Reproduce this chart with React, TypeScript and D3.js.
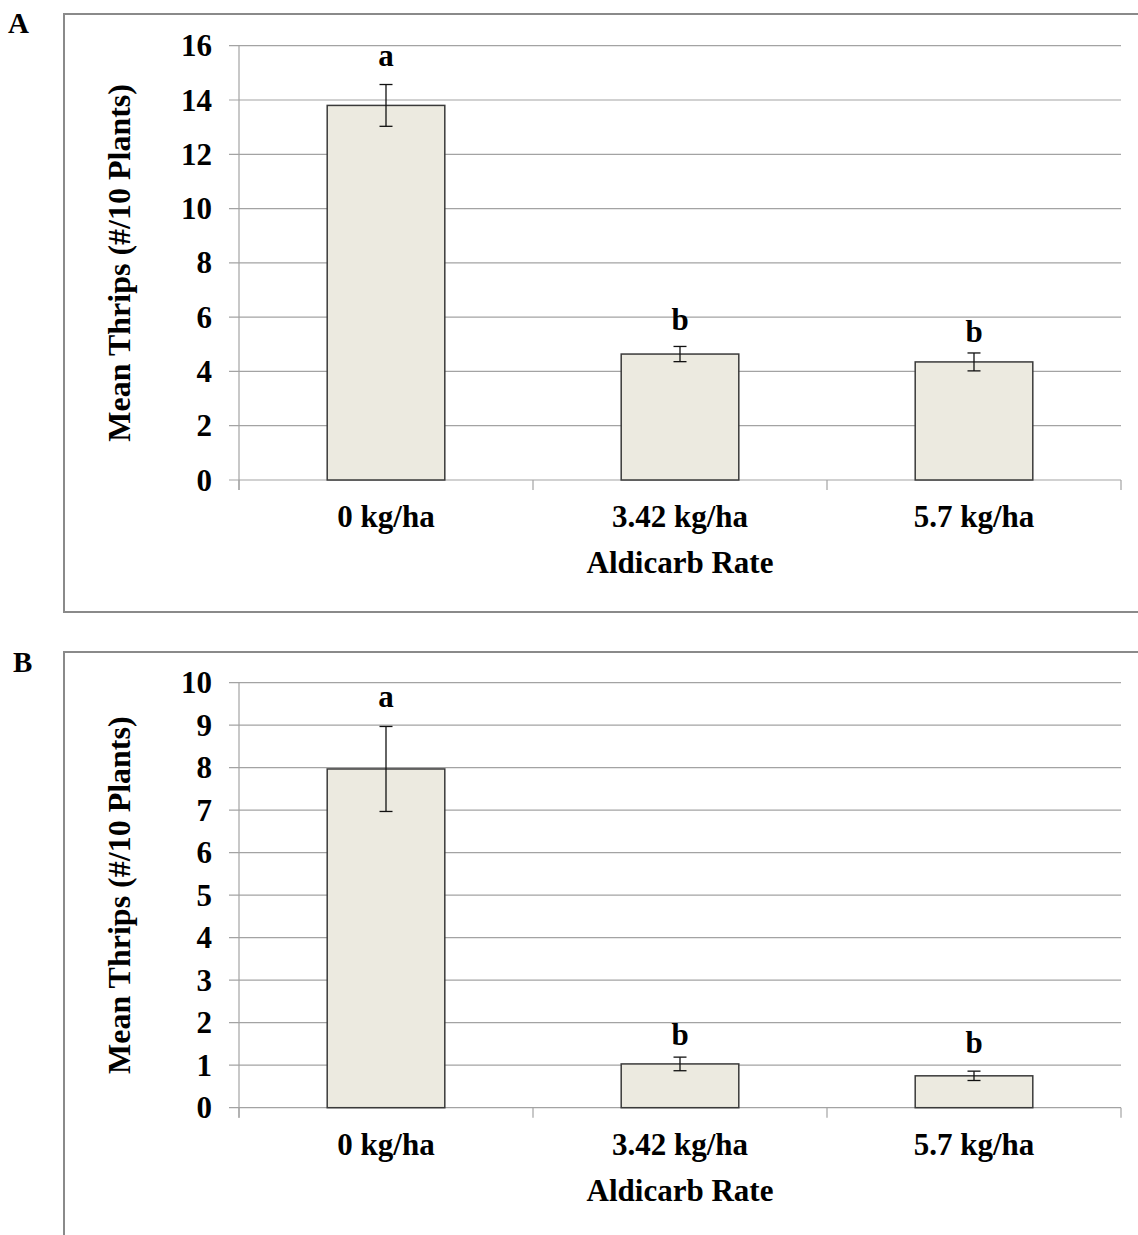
import React from "react";
import * as d3 from "d3";

const categories = ["0 kg/ha", "3.42 kg/ha", "5.7 kg/ha"];

const meansA = [13.8, 4.64, 4.35];
const errorsA = [0.77, 0.28, 0.33];
const lettersA = ["a", "b", "b"];
const letterPosA = [15.25, 5.51, 5.1];
const ticksA = [0, 2, 4, 6, 8, 10, 12, 14, 16];

const meansB = [7.97, 1.03, 0.75];
const errorsB = [1.0, 0.16, 0.11];
const lettersB = ["a", "b", "b"];
const letterPosB = [9.44, 1.48, 1.28];
const ticksB = [0, 1, 2, 3, 4, 5, 6, 7, 8, 9, 10];

const yTitle = "Mean Thrips (#/10 Plants)";
const xTitle = "Aldicarb Rate";

const FONT = "'Liberation Serif', 'Times New Roman', serif";
const GRID = "#a3a3a3";
const BAR_FILL = "#ECEAE0";
const BAR_STROKE = "#3a3a3a";

type PanelProps = {
  label: string;
  labelX: number;
  labelY: number;
  boxTop: number;
  boxBottom: number;
  yTop: number;
  yBottom: number;
  maxY: number;
  ticks: number[];
  means: number[];
  errors: number[];
  letters: string[];
  letterPos: number[];
  catBaseline: number;
  titleBaseline: number;
};

function Panel(p: PanelProps) {
  const x0 = 239;
  const x1 = 1121;
  const x = d3
    .scaleBand<string>()
    .domain(categories)
    .range([x0, x1])
    .paddingInner(0.6)
    .paddingOuter(0.3);
  const y = d3.scaleLinear().domain([0, p.maxY]).range([p.yBottom, p.yTop]);
  const step = (x1 - x0) / categories.length;
  const boundaries = d3.range(categories.length + 1).map((i) => x0 + i * step);
  const cap = 6.5;

  return (
    <g>
      <text
        x={p.labelX}
        y={p.labelY}
        fontFamily={FONT}
        fontWeight="bold"
        fontSize={29}
        fill="#000"
      >
        {p.label}
      </text>
      <rect
        x={64}
        y={p.boxTop}
        width={1138 - 64 + 10}
        height={p.boxBottom - p.boxTop}
        fill="none"
        stroke="#8a8a8a"
        strokeWidth={2}
      />
      {p.ticks.map((t) => (
        <line
          key={"g" + t}
          x1={x0 - 10}
          x2={x1}
          y1={y(t)}
          y2={y(t)}
          stroke={GRID}
          strokeWidth={1.2}
        />
      ))}
      <line x1={x0} x2={x0} y1={y(p.maxY)} y2={y(0) + 10} stroke={GRID} strokeWidth={1.2} />
      {boundaries.map((b, i) => (
        <line key={"xt" + i} x1={b} x2={b} y1={y(0)} y2={y(0) + 10} stroke={GRID} strokeWidth={1.2} />
      ))}
      {p.ticks.map((t) => (
        <text
          key={"tl" + t}
          x={212}
          y={y(t)}
          dy="0.34em"
          textAnchor="end"
          fontFamily={FONT}
          fontWeight="bold"
          fontSize={31}
          fill="#000"
        >
          {t}
        </text>
      ))}
      {categories.map((c, i) => (
        <rect
          key={"b" + i}
          x={x(c)}
          y={y(p.means[i])}
          width={x.bandwidth()}
          height={y(0) - y(p.means[i])}
          fill={BAR_FILL}
          stroke={BAR_STROKE}
          strokeWidth={1.5}
        />
      ))}
      {categories.map((c, i) => {
        const cx = (x(c) as number) + x.bandwidth() / 2;
        const hi = y(p.means[i] + p.errors[i]);
        const lo = y(p.means[i] - p.errors[i]);
        return (
          <g key={"e" + i} stroke="#111" strokeWidth={1.3}>
            <line x1={cx} x2={cx} y1={hi} y2={lo} />
            <line x1={cx - cap} x2={cx + cap} y1={hi} y2={hi} />
            <line x1={cx - cap} x2={cx + cap} y1={lo} y2={lo} />
          </g>
        );
      })}
      {categories.map((c, i) => (
        <text
          key={"l" + i}
          x={(x(c) as number) + x.bandwidth() / 2}
          y={y(p.letterPos[i])}
          textAnchor="middle"
          fontFamily={FONT}
          fontWeight="bold"
          fontSize={31}
          fill="#000"
        >
          {p.letters[i]}
        </text>
      ))}
      {categories.map((c, i) => (
        <text
          key={"c" + i}
          x={(x(c) as number) + x.bandwidth() / 2}
          y={p.catBaseline}
          textAnchor="middle"
          fontFamily={FONT}
          fontWeight="bold"
          fontSize={31}
          fill="#000"
        >
          {c}
        </text>
      ))}
      <text
        x={(x0 + x1) / 2}
        y={p.titleBaseline}
        textAnchor="middle"
        fontFamily={FONT}
        fontWeight="bold"
        fontSize={31}
        fill="#000"
      >
        {xTitle}
      </text>
      <text
        transform={`translate(130, ${(p.yTop + p.yBottom) / 2}) rotate(-90)`}
        textAnchor="middle"
        fontFamily={FONT}
        fontWeight="bold"
        fontSize={32}
        fill="#000"
      >
        {yTitle}
      </text>
    </g>
  );
}

export default function App() {
  return (
    <svg
      width={1138}
      height={1235}
      style={{ position: "absolute", left: 0, top: 0, background: "#fff" }}
    >
      <rect x={0} y={0} width={1138} height={1235} fill="#fff" />
      <Panel
        label="A"
        labelX={8}
        labelY={33}
        boxTop={14}
        boxBottom={612}
        yTop={45.7}
        yBottom={480}
        maxY={16}
        ticks={ticksA}
        means={meansA}
        errors={errorsA}
        letters={lettersA}
        letterPos={letterPosA}
        catBaseline={527}
        titleBaseline={573}
      />
      <Panel
        label="B"
        labelX={13}
        labelY={672}
        boxTop={652}
        boxBottom={1260}
        yTop={682.7}
        yBottom={1107.7}
        maxY={10}
        ticks={ticksB}
        means={meansB}
        errors={errorsB}
        letters={lettersB}
        letterPos={letterPosB}
        catBaseline={1155}
        titleBaseline={1201}
      />
    </svg>
  );
}
